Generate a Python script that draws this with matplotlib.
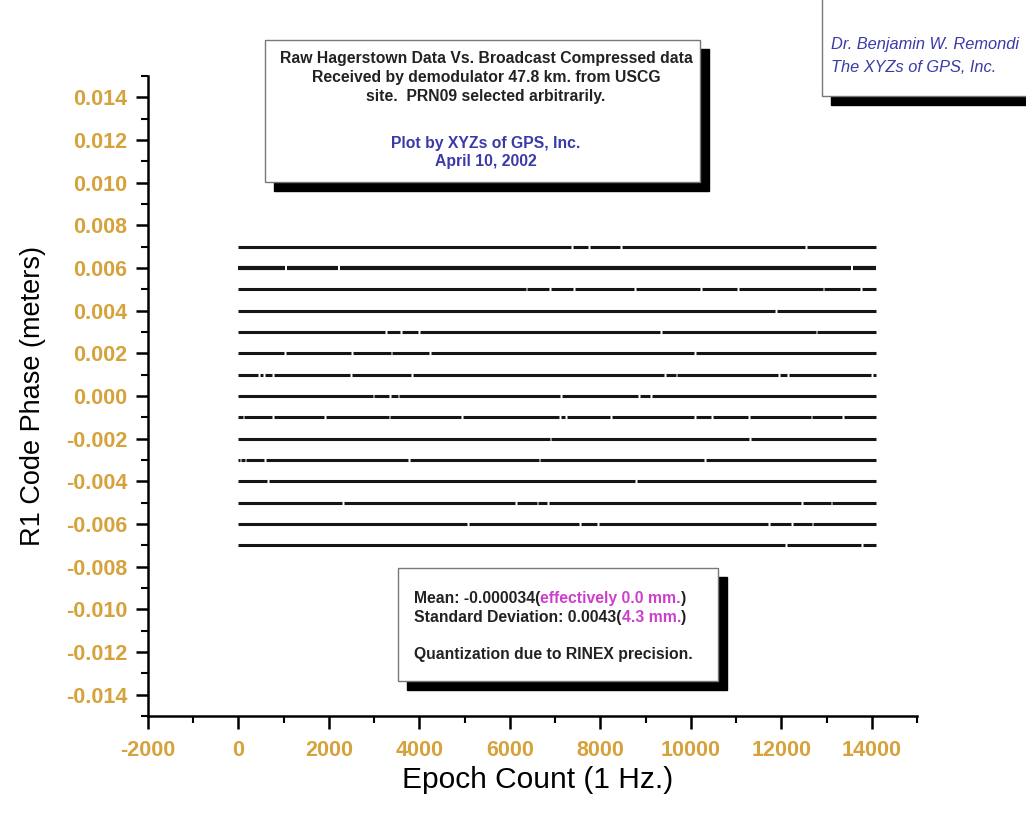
# R1 code phase residuals, Hagerstown raw vs broadcast compressed.
# Quantized levels drawn as horizontal runs with the missing epochs as gaps.

import matplotlib
matplotlib.use("Agg")
import matplotlib.pyplot as plt
from matplotlib.patches import Rectangle
from matplotlib.ticker import MultipleLocator, FormatStrFormatter

# quantized residual levels (m)
levels = [0.007, 0.006, 0.005, 0.004, 0.003, 0.002, 0.001, 0.000,
          -0.001, -0.002, -0.003, -0.004, -0.005, -0.006, -0.007]
epoch_start = 0
epoch_end = 14100

# epochs where no sample sits on a level
gaps = {
    0.007: [7368, 7746, 8459, 12555],
    0.006: [1046, 2226, 13556],
    0.005: [6366, 6878, 7413, 8771, 10218, 11041, 12933, 13757],
    0.004: [11887],
    0.003: [3270, 3600, 3985, 9349, 12777],
    0.002: [1024, 2515, 3383, 4229, 10084],
    0.001: [445, 556, 757, 2493, 3829, 9438, 9683, 11954, 12154, 14000],
    0.000: [2983, 3350, 3539, 7123, 8860, 9127],
    -0.001: [111, 757, 1914, 3339, 4942, 7101, 7235, 8236, 10084, 10462,
             11286, 12666, 13356],
    -0.002: [6900, 11308],
    -0.003: [45, 156, 579, 3762, 6656, 10306],
    -0.004: [645, 8793],
    -0.005: [2315, 6144, 6611, 6834, 12466, 13111],
    -0.006: [5075, 7546, 7947, 11731, 12243, 12688],
    -0.007: [12110, 13779],
}

title_lines = ["Raw Hagerstown Data Vs. Broadcast Compressed data",
               "Received by demodulator 47.8 km. from USCG",
               "site.  PRN09 selected arbitrarily."]
credit_lines = ["Plot by XYZs of GPS, Inc.", "April 10, 2002"]
author_lines = ["Dr. Benjamin W. Remondi", "The XYZs of GPS, Inc."]
mean_txt = ("Mean: -0.000034(", "effectively 0.0 mm.", ")")
std_txt = ("Standard Deviation: 0.0043(", "4.3 mm.", ")")
note_txt = "Quantization due to RINEX precision."

GOLD = "#d6a23c"
BLUE = "#3a3aa8"
MAGENTA = "#cc3fcc"
GAP_HALF = 20

plt.rcParams['font.family'] = ['Liberation Sans', 'DejaVu Sans']
plt.rcParams['axes.unicode_minus'] = False

W, H = 1026, 813
fig = plt.figure(figsize=(W / 100, H / 100), dpi=100)
ax = fig.add_axes([148 / W, 1 - 716 / H, (917 - 148) / W, (716 - 76) / H])


def px(x, y):
    return x / W, 1 - y / H


# data runs
for lev in levels:
    g = sorted(gaps.get(lev, []))
    starts = [epoch_start] + [v + GAP_HALF for v in g]
    ends = [v - GAP_HALF for v in g] + [epoch_end]
    lw = 3.0 if lev == 0.006 else 2.2
    ax.hlines([lev] * len(starts), starts, ends, colors="#161616", lw=lw)

ax.set_xlim(-2000, 15000)
ax.set_ylim(-0.015, 0.015)
ax.xaxis.set_major_locator(MultipleLocator(2000))
ax.xaxis.set_minor_locator(MultipleLocator(1000))
ax.yaxis.set_minor_locator(MultipleLocator(0.001))
ax.yaxis.set_major_formatter(FormatStrFormatter("%.3f"))
ax.set_yticks([v / 1000 for v in range(-14, 15, 2)])

for s in ("top", "right"):
    ax.spines[s].set_visible(False)
for s in ("left", "bottom"):
    ax.spines[s].set_linewidth(1.8)

ax.tick_params(which="major", direction="out", length=9, width=1.8,
               labelsize=15.5, labelcolor=GOLD)
ax.tick_params(axis="x", which="major", pad=8)
ax.tick_params(axis="y", which="major", pad=6)
ax.tick_params(which="minor", direction="out", length=5, width=1.5)
for lab in ax.get_xticklabels() + ax.get_yticklabels():
    lab.set_fontweight("bold")

ax.set_xlabel("Epoch Count (1 Hz.)", fontsize=21.5, labelpad=4)
ax.set_ylabel("R1 Code Phase (meters)", fontsize=19.5, labelpad=14)
ax.xaxis.set_label_coords(0.507, -0.078)


def shadow_box(x0, y0, x1, y1, off=9):
    # black drop shadow first, white panel on top
    fx, fy = px(x0 + off, y1 + off)
    fig.patches.append(Rectangle((fx, fy), (x1 - x0) / W, (y1 - y0) / H,
                                 transform=fig.transFigure, color="black",
                                 zorder=5))
    fx, fy = px(x0, y1)
    fig.patches.append(Rectangle((fx, fy), (x1 - x0) / W, (y1 - y0) / H,
                                 transform=fig.transFigure, facecolor="white",
                                 edgecolor="#777777", lw=1.0, zorder=6))


# title box
shadow_box(265, 40, 700, 182)
for i, t in enumerate(title_lines):
    fig.text(*px(486, 59 + i * 18.5), t, ha="center", va="center",
             fontsize=11.3, fontweight="bold", color="#222222", zorder=7)
for i, t in enumerate(credit_lines):
    fig.text(*px(486, 143 + i * 18.5), t, ha="center", va="center",
             fontsize=11.3, fontweight="bold", color=BLUE, zorder=7)

# author box (runs off the top/right of the page)
shadow_box(822, -20, 1040, 96)
for i, t in enumerate(author_lines):
    fig.text(*px(831, 45 + i * 23), t, ha="left", va="center",
             fontsize=11.8, style="italic", color=BLUE, zorder=7)

# statistics box
fig.canvas.draw()
r = fig.canvas.get_renderer()
shadow_box(398, 568, 718, 681)
for i, parts in enumerate([mean_txt, std_txt]):
    x, y = px(414, 598 + i * 19)
    for j, part in enumerate(parts):
        t = fig.text(x, y, part, ha="left", va="center", fontsize=11.3,
                     fontweight="bold",
                     color=MAGENTA if j == 1 else "#222222", zorder=7)
        x = t.get_window_extent(r).x1 / fig.bbox.width
fig.text(*px(414, 655), note_txt, ha="left", va="center", fontsize=11.3,
         fontweight="bold", color="#222222", zorder=7)

fig.savefig("out.png", dpi=100)
